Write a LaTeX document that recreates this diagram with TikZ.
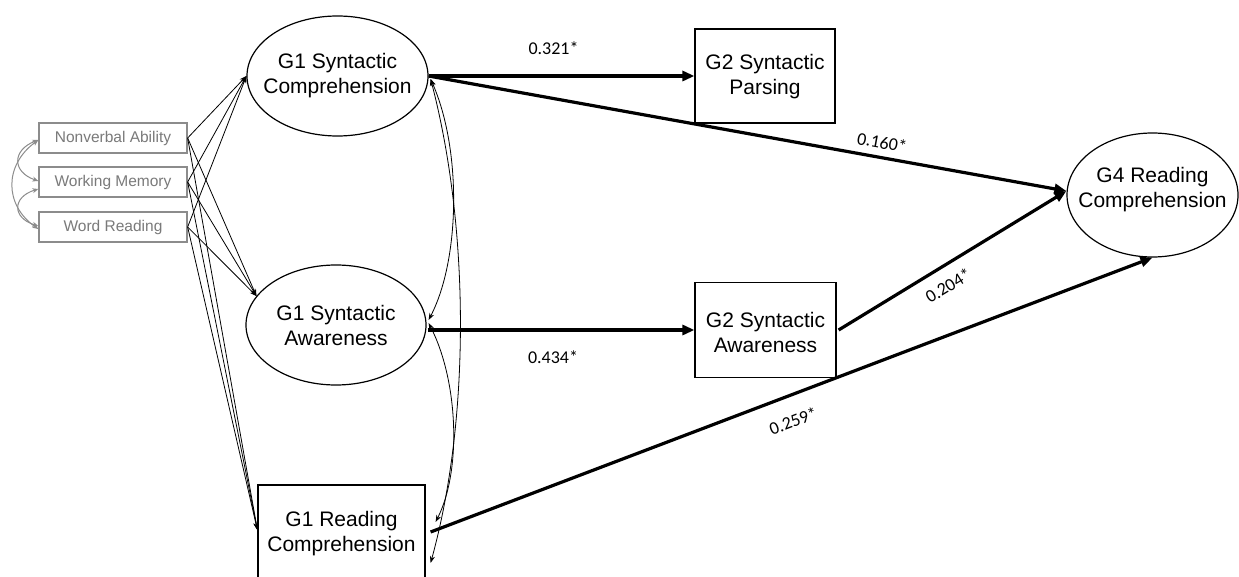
\documentclass[tikz,border=0pt]{standalone}
\usepackage{fontspec}
\setmainfont{Liberation Sans}
\newfontfamily\coeffont{Carlito}
\usetikzlibrary{shapes.geometric,arrows.meta,calc}

\begin{document}
\begin{tikzpicture}[x=1pt,y=-1pt,
  latent/.style={draw, ellipse, line width=1.2pt, inner sep=0pt},
  observed/.style={draw, rectangle, line width=1.2pt, inner sep=0pt},
  covariate/.style={draw=black!45, rectangle, line width=1.3pt, inner sep=0pt,
    minimum width=148pt, minimum height=30pt, text=black!52,
    font=\fontsize{15.5}{18}\selectfont},
  mainlbl/.style={align=center, font=\fontsize{21}{25}\selectfont, inner sep=0pt},
  effect/.style={line width=3.2pt, -{Triangle[length=12pt,width=10pt]}},
  predictor/.style={line width=0.8pt, -{Stealth[length=7pt,width=5pt]}},
  corr/.style={line width=0.8pt, {Stealth[length=7pt,width=5pt]}-{Stealth[length=7pt,width=5pt]}},
  graycorr/.style={draw=black!45, line width=1pt,
    {Stealth[length=6pt,width=5pt]}-{Stealth[length=6pt,width=5pt]}},
  coef/.style={font=\coeffont\fontsize{18}{20}\selectfont, inner sep=0pt},
]
\useasboundingbox (0,0) rectangle (1239,577);
\fill[white] (0,0) rectangle (1239,577);
\clip (0,0) rectangle (1239,577);

% grade 1 constructs
\node[latent, minimum width=181pt, minimum height=120pt] (G1SC) at (337.5,76) {};
\node[mainlbl] (G1SCt) at (G1SC) {G1 Syntactic\\Comprehension};
\node[latent, minimum width=180pt, minimum height=120pt] (G1SA) at (336,325) {};
\node[mainlbl] (G1SAt) at (G1SA) {G1 Syntactic\\Awareness};
\node[observed, minimum width=167pt, minimum height=98pt] (G1RC) at (341.5,534) {};
\node[mainlbl] (G1RCt) at (G1RC) {G1 Reading\\Comprehension};

% grade 2 and grade 4 outcomes
\node[observed, minimum width=140pt, minimum height=94pt] (G2SP) at (765,76) {};
\node[mainlbl] (G2SPt) at ($(G2SP)+(0,1)$) {G2 Syntactic\\Parsing};
\node[observed, minimum width=141pt, minimum height=95pt] (G2SA) at (765.5,330) {};
\node[mainlbl] (G2SAt) at ($(G2SA)+(0,2)$) {G2 Syntactic\\Awareness};
\node[latent, minimum width=171pt, minimum height=124pt] (G4) at (1152.5,195) {};
\node[mainlbl] (G4t) at ($(G4)+(0,-5)$) {G4 Reading\\Comprehension};

% control variables
\node[covariate] (NA) at (113,138) {Nonverbal Ability};
\node[covariate] (WM) at (113,182) {Working Memory};
\node[covariate] (WR) at (113,227) {Word Reading};

% correlations among the controls
\draw[graycorr] ($(NA.west)+(0,2)$) .. controls (12,150) and (12,172) .. ($(WM.west)+(0,-1)$);
\draw[graycorr] ($(WM.west)+(0,7)$) .. controls (12,197) and (12,218) .. ($(WR.west)+(0,-1)$);
\draw[graycorr] ($(NA.west)+(0,2)$) .. controls (4,165) and (4,205) .. ($(WR.west)+(0,2)$);

% controls predicting the grade 1 measures
\foreach \s in {NA,WM,WR} {
  \draw[predictor] (\s.east) -- (G1SC.west);
  \draw[predictor] (\s.east) -- (G1SA.160);
  \draw[predictor] (\s.east) -- ($(G1RC.west)+(0,-4)$);
}

% correlations among the grade 1 measures
\draw[corr] ($(G1SC.east)+(2,3)$) .. controls (462,150) and (460,260) .. ($(G1SA.east)+(2,-5)$);
\draw[corr] ($(G1SC.east)+(2,3)$) .. controls (470,230) and (470,420) .. ($(G1RC.east)+(5,29)$);
\draw[corr] ($(G1SA.east)+(2,-2)$) .. controls (458,380) and (462,470) .. ($(G1RC.east)+(10,-12)$);

% longitudinal paths
\draw[effect] (G1SC.east) -- (G2SP.west)
  node[coef, pos=.47, above=20pt] {0.321*};
\draw[effect] (G1SC.east) -- ($(G4.west)+(0,-4)$)
  node[coef, sloped, pos=.707, above=7pt] {0.160*};
\draw[effect] ($(G1SA.east)+(1,5)$) -- (G2SA.west)
  node[coef, pos=.47, below=19pt] {0.434*};
\draw[effect] ($(G2SA.east)+(2,0)$) -- ($(G4.west)+(0,-4)$)
  node[coef, sloped, pos=.437, below=11pt] {0.204*};
\draw[effect] ($(G1RC.east)+(5,-2)$) -- (G4.south)
  node[coef, sloped, pos=.49, below=17pt] {0.259*};
\end{tikzpicture}
\end{document}
